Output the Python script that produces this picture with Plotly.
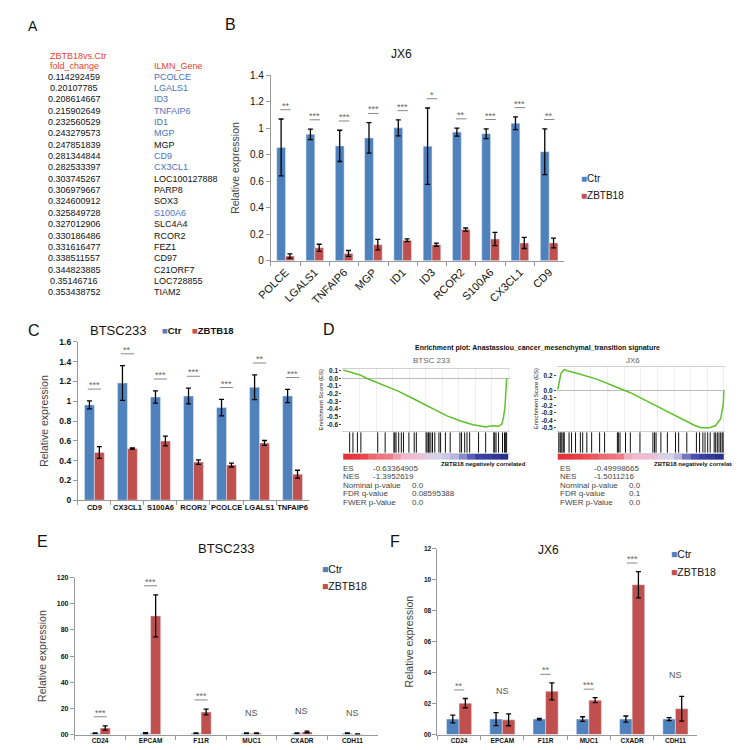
import plotly.graph_objects as go

FONT = "Liberation Sans, Arial, sans-serif"
W, H = 740, 750
CTR_COL = "#4F81BD"
ZB_COL = "#C0504D"


def fx(p):
    return p / W


def fy(p):
    return 1 - p / H


# ---------------- Panel A data ----------------
a_fold = ["0.114292459", "0.20107785", "0.208614667", "0.215902649", "0.232560529",
          "0.243279573", "0.247851839", "0.281344844", "0.282533397", "0.303745267",
          "0.306979667", "0.324600912", "0.325849728", "0.327012906", "0.330186486",
          "0.331616477", "0.338511557", "0.344823885", "0.35146716", "0.353438752"]
a_gene = ["PCOLCE", "LGALS1", "ID3", "TNFAIP6", "ID1", "MGP", "MGP", "CD9", "CX3CL1",
          "LOC100127888", "PARP8", "SOX3", "S100A6", "SLC4A4", "RCOR2", "FEZ1", "CD97",
          "C21ORF7", "LOC728855", "TIAM2"]
a_highlight = [True, True, True, True, True, True, False, True, True, False,
               False, False, True, False, False, False, False, False, False, False]

# ---------------- Panel B data (JX6) ----------------
b_genes = ["POLCE", "LGALS1", "TNFAIP6", "MGP", "ID1", "ID3", "RCOR2", "S100A6", "CX3CL1", "CD9"]
b_ctr = [0.855, 0.954, 0.867, 0.927, 1.003, 0.865, 0.971, 0.959, 1.038, 0.823]
b_ctr_err = [0.215, 0.04, 0.118, 0.115, 0.06, 0.288, 0.03, 0.037, 0.048, 0.173]
b_zb = [0.035, 0.097, 0.055, 0.121, 0.154, 0.121, 0.235, 0.164, 0.134, 0.134]
b_zb_err = [0.016, 0.027, 0.022, 0.04, 0.01, 0.012, 0.012, 0.05, 0.042, 0.037]
b_sig = ["**", "***", "***", "***", "***", "*", "**", "***", "***", "**"]

# ---------------- Panel C data (BTSC233) ----------------
c_genes = ["CD9", "CX3CL1", "S100A6", "RCOR2", "PCOLCE", "LGALS1", "TNFAIP6"]
c_ctr = [0.963, 1.185, 1.043, 1.053, 0.936, 1.142, 1.053]
c_ctr_err = [0.04, 0.175, 0.062, 0.08, 0.083, 0.125, 0.067]
c_zb = [0.482, 0.522, 0.598, 0.385, 0.355, 0.578, 0.262]
c_zb_err = [0.06, 0.005, 0.05, 0.023, 0.02, 0.025, 0.04]
c_sig = ["***", "**", "***", "***", "***", "**", "***"]

# ---------------- Panel D data (GSEA) ----------------
gsea_title = "Enrichment plot: Anastassiou_cancer_mesenchymal_transition signature"
d1_name = "BTSC 233"
d1_rank = [0, 0.043, 0.102, 0.141, 0.238, 0.336, 0.434, 0.531, 0.629, 0.707, 0.785,
           0.824, 0.863, 0.902, 0.941, 0.961, 0.971, 0.980, 0.990]
d1_es = [0.106, 0.077, 0.043, 0.0, -0.085, -0.17, -0.277, -0.383, -0.49, -0.553, -0.604,
         -0.617, -0.634, -0.617, -0.625, -0.596, -0.51, -0.38, 0.0]
d1_hits = [0.039, 0.059, 0.086, 0.107, 0.209, 0.254, 0.307, 0.3125, 0.320, 0.336, 0.352,
           0.365, 0.398, 0.430, 0.443, 0.502, 0.508, 0.516, 0.521, 0.531, 0.541, 0.555,
           0.580, 0.590, 0.619, 0.648, 0.707, 0.717, 0.736, 0.75, 0.766, 0.820, 0.863,
           0.912, 0.918, 0.926, 0.941, 0.965, 0.977, 0.984, 0.990]
d1_metric = [1.0, 0.97, 0.92, 0.8, 0.75, 0.72, 0.6, 0.5, 0.48, 0.42, 0.33, 0.3, 0.28,
             0.25, 0.18, 0.12, 0.06, 0.04, 0.02, 0.0]
d1_stats = [("ES", "-0.63364905"), ("NES", "-1.3952619"), ("Nominal p-value", "0.0"),
            ("FDR q-value", "0.08595388"), ("FWER p-Value", "0.0")]

d2_name = "JX6"
d2_rank = [0, 0.0097, 0.019, 0.039, 0.058, 0.146, 0.243, 0.340, 0.437, 0.534, 0.631,
           0.728, 0.825, 0.864, 0.913, 0.951, 0.981, 0.997, 1.0]
d2_es = [0.013, 0.12, 0.23, 0.28, 0.264, 0.21, 0.145, 0.057, -0.03, -0.14, -0.25, -0.36,
         -0.47, -0.50, -0.50, -0.47, -0.38, -0.185, 0.0]
d2_hits = [0.006, 0.014, 0.019, 0.025, 0.033, 0.039, 0.068, 0.083, 0.107, 0.136, 0.150,
           0.175, 0.204, 0.252, 0.282, 0.359, 0.365, 0.375, 0.408, 0.437, 0.495, 0.573,
           0.583, 0.592, 0.621, 0.660, 0.709, 0.728, 0.777, 0.835, 0.854, 0.874, 0.887,
           0.903, 0.918, 0.942, 0.951, 0.961, 0.971, 0.981, 0.990, 0.996]
d2_metric = [1.0, 0.98, 0.95, 0.9, 0.85, 0.78, 0.75, 0.72, 0.55, 0.5, 0.48, 0.45, 0.32,
             0.3, 0.25, 0.15, 0.1, 0.05, 0.03, 0.0]
d2_stats = [("ES", "-0.49998665"), ("NES", "-1.5011216"), ("Nominal p-value", "0.0"),
            ("FDR q-value", "0.1"), ("FWER p-Value", "0.0")]

# ---------------- Panel E data (BTSC233) ----------------
e_genes = ["CD24", "EPCAM", "F11R", "MUC1", "CXADR", "CDH11"]
e_ctr = [1.0, 1.0, 1.0, 1.0, 1.0, 1.0]
e_ctr_err = [0.3, 0.4, 0.3, 0.2, 0.3, 0.3]
e_zb = [5.0, 90.7, 17.3, 1.0, 2.0, 0.4]
e_zb_err = [1.6, 16.0, 2.2, 0.3, 0.6, 0.2]
e_sig = ["***", "***", "***", "NS", "NS", "NS"]
e_ticks = [0, 20, 40, 60, 80, 100, 120]
e_ticklabels = ["00", "20", "40", "60", "80", "100", "120"]

# ---------------- Panel F data (JX6) ----------------
f_genes = ["CD24", "EPCAM", "F11R", "MUC1", "CXADR", "CDH11"]
f_ctr = [1.0, 1.0, 1.0, 1.0, 1.0, 1.0]
f_ctr_err = [0.25, 0.42, 0.05, 0.15, 0.2, 0.1]
f_zb = [2.03, 0.95, 2.79, 2.22, 9.67, 1.67]
f_zb_err = [0.3, 0.38, 0.55, 0.16, 0.85, 0.8]
f_sig = ["**", "NS", "**", "***", "***", "NS"]
f_ticks = [0, 2, 4, 6, 8, 10, 12]
f_ticklabels = ["00", "02", "04", "06", "08", "10", "12"]

fig = go.Figure()
annotations = []
shapes = []


def add_bar_panel(n, cats, ctr, ctr_err, zb, zb_err, width, sig, line_off, half,
                  star_size, ns_off=None):
    xa = "x" if n == 1 else "x%d" % n
    ya = "y" if n == 1 else "y%d" % n
    eb = dict(color="black", thickness=1.3, width=2.5)
    fig.add_trace(go.Bar(x=cats, y=ctr, width=width, offset=-width, marker_color=CTR_COL,
                         error_y=dict(type="data", array=ctr_err, **eb),
                         name="Ctr", showlegend=False, xaxis=xa, yaxis=ya))
    fig.add_trace(go.Bar(x=cats, y=zb, width=width, offset=0, marker_color=ZB_COL,
                         error_y=dict(type="data", array=zb_err, **eb),
                         name="ZBTB18", showlegend=False, xaxis=xa, yaxis=ya))
    for i, s in enumerate(sig):
        top = max(ctr[i] + ctr_err[i], zb[i] + zb_err[i])
        if s == "NS":
            annotations.append(dict(x=i, y=top + ns_off, xref=xa, yref=ya, text="NS",
                                    showarrow=False, yanchor="middle",
                                    font=dict(size=9, color="#555", family=FONT)))
        else:
            h = top + line_off
            shapes.append(dict(type="line", xref=xa, yref=ya, x0=i - half, x1=i + half,
                               y0=h, y1=h, line=dict(color="#888", width=1)))
            annotations.append(dict(x=i, y=h, xref=xa, yref=ya, text=s, showarrow=False,
                                    yanchor="bottom", yshift=-3,
                                    font=dict(size=star_size, color="#666", family=FONT)))


add_bar_panel(1, b_genes, b_ctr, b_ctr_err, b_zb, b_zb_err, 0.3, b_sig, 0.07, 0.18, 9)
add_bar_panel(2, c_genes, c_ctr, c_ctr_err, c_zb, c_zb_err, 0.3, c_sig, 0.12, 0.2, 9)
add_bar_panel(9, e_genes, e_ctr, e_ctr_err, e_zb, e_zb_err, 0.2, e_sig, 7, 0.13, 9, 15.5)
add_bar_panel(10, f_genes, f_ctr, f_ctr_err, f_zb, f_zb_err, 0.29, f_sig, 0.55, 0.12, 9, 1.4)

# GSEA traces
GREEN = "#5cc12a"
gsea_cs = [[0.0, "#2a2f92"], [0.1, "#4a4fb0"], [0.2, "#9a9ad2"], [0.3, "#d6d2ea"],
           [0.5, "#f4b8cf"], [0.7, "#ef8088"], [0.85, "#ec5a60"], [1.0, "#e5303a"]]


def add_gsea(es_n, hit_n, bar_n, rank, es, hits, metric):
    fig.add_trace(go.Scatter(x=rank, y=es, mode="lines", line=dict(color=GREEN, width=1.5),
                             showlegend=False, xaxis="x%d" % es_n, yaxis="y%d" % es_n))
    hx, hy = [], []
    for h in hits:
        hx += [h, h, None]
        hy += [0, 1, None]
    fig.add_trace(go.Scatter(x=hx, y=hy, mode="lines", line=dict(color="#111", width=1),
                             showlegend=False, xaxis="x%d" % hit_n, yaxis="y%d" % hit_n))
    nseg = len(metric)
    fig.add_trace(go.Heatmap(x=[(i + 0.5) / nseg for i in range(nseg)], y=[0], z=[metric],
                             colorscale=gsea_cs, zmin=0, zmax=1, showscale=False,
                             xaxis="x%d" % bar_n, yaxis="y%d" % bar_n))


add_gsea(3, 4, 5, d1_rank, d1_es, d1_hits, d1_metric)
add_gsea(6, 7, 8, d2_rank, d2_es, d2_hits, d2_metric)

layout = dict(width=W, height=H, margin=dict(l=0, r=0, t=0, b=0),
              paper_bgcolor="white", plot_bgcolor="white",
              font=dict(family=FONT, color="#111"), showlegend=False)


def bar_axes(n, xdom, ydom, yrange, tickfont_x, tickfont_y, tickangle=0, tickvals=None,
             ticktext=None, dtick=None, title_size=10, standoff=8):
    xk = "xaxis" if n == 1 else "xaxis%d" % n
    yk = "yaxis" if n == 1 else "yaxis%d" % n
    ya = "y" if n == 1 else "y%d" % n
    xa = "x" if n == 1 else "x%d" % n
    layout[xk] = dict(domain=xdom, anchor=ya, type="category", showline=True,
                      linecolor="#999", linewidth=1, ticks="outside", tickson="boundaries",
                      ticklen=4, tickcolor="#999", showgrid=False, tickangle=tickangle,
                      tickfont=tickfont_x)
    yd = dict(domain=ydom, anchor=xa, range=yrange, showline=True, linecolor="#999",
              linewidth=1, ticks="outside", ticklen=4, tickcolor="#999", showgrid=False,
              zeroline=False, tickfont=tickfont_y,
              title=dict(text="Relative expression", font=dict(size=title_size, color="#444"),
                         standoff=standoff))
    if tickvals is not None:
        yd.update(tickmode="array", tickvals=tickvals, ticktext=ticktext)
    else:
        yd.update(dtick=dtick, tick0=0)
    layout[yk] = yd


bar_axes(1, [fx(253), fx(552)], [fy(250.7), fy(62.3)], [0, 1.4],
         dict(size=11, color="#111"), dict(size=10, color="#111"), tickangle=-45, dtick=0.2,
         title_size=10.5)
bar_axes(2, [fx(56), fx(292)], [fy(494), fy(333.3)], [0, 1.6],
         dict(size=7.5, color="#111", weight="bold"), dict(size=8.5, color="#111", weight="bold"),
         dtick=0.2, title_size=10.5)
bar_axes(9, [fx(53), fx(362)], [fy(732.3), fy(572.7)], [0, 120],
         dict(size=6.5, color="#111", weight="bold"), dict(size=7, color="#111", weight="bold"),
         tickvals=e_ticks, ticktext=e_ticklabels, title_size=10.5)
bar_axes(10, [fx(423), fx(688)], [fy(732.3), fy(543.3)], [0, 12],
         dict(size=6.5, color="#111", weight="bold"), dict(size=6.5, color="#111", weight="bold"),
         tickvals=f_ticks, ticktext=f_ticklabels, title_size=10.5)


def gsea_axes(es_n, hit_n, bar_n, x0, x1, es_top, es_bot, es_range, es_ticks):
    tick_txt = ["%.1f" % t for t in es_ticks]
    layout["xaxis%d" % es_n] = dict(domain=[fx(x0), fx(x1)], anchor="y%d" % es_n,
                                    range=[-0.005, 1.01], showticklabels=False, ticks="",
                                    showgrid=True, gridcolor="#eeeeee", dtick=0.1,
                                    showline=True, mirror=True, linecolor="#d0d0d0",
                                    zeroline=False)
    layout["yaxis%d" % es_n] = dict(domain=[fy(es_bot), fy(es_top)], anchor="x%d" % es_n,
                                    range=es_range, tickmode="array", tickvals=es_ticks,
                                    ticktext=tick_txt, ticks="outside", ticklen=2,
                                    tickcolor="#444", showgrid=False, zeroline=True,
                                    zerolinecolor="#bbbbbb", zerolinewidth=1,
                                    tickfont=dict(size=6.5, color="#222", weight="bold"),
                                    showline=False,
                                    title=dict(text="Enrichment Score (ES)",
                                               font=dict(size=6, color="#222"), standoff=2))
    layout["xaxis%d" % hit_n] = dict(domain=[fx(x0), fx(x1)], anchor="y%d" % hit_n,
                                     range=[-0.005, 1.01], showticklabels=False, ticks="",
                                     showgrid=False, zeroline=False, showline=True,
                                     mirror=True, linecolor="#d0d0d0")
    layout["yaxis%d" % hit_n] = dict(domain=[fy(446), fy(425)], anchor="x%d" % hit_n,
                                     range=[0, 1], showticklabels=False, ticks="",
                                     showgrid=False, zeroline=False, showline=False)
    layout["xaxis%d" % bar_n] = dict(domain=[fx(x0), fx(x1)], anchor="y%d" % bar_n,
                                     range=[-0.005, 1.01], showticklabels=False, ticks="",
                                     showgrid=False, zeroline=False, showline=False)
    layout["yaxis%d" % bar_n] = dict(domain=[fy(453), fy(447)], anchor="x%d" % bar_n,
                                     range=[-0.5, 0.5], showticklabels=False, ticks="",
                                     showgrid=False, zeroline=False, showline=False)


gsea_axes(3, 4, 5, 326, 497, 360.7, 423.3, [-0.68, 0.121],
          [0.1, 0.0, -0.1, -0.2, -0.3, -0.4, -0.5, -0.6])
gsea_axes(6, 7, 8, 545, 717, 358.3, 423.3, [-0.537, 0.32],
          [0.2, 0.0, -0.1, -0.2, -0.3, -0.4, -0.5])

# ---------------- Text annotations ----------------


def txt(x, y, text, size, color="#111", xanchor="left", bold=False, yanchor="middle"):
    annotations.append(dict(x=fx(x), y=fy(y), xref="paper", yref="paper", text=text,
                            showarrow=False, xanchor=xanchor, yanchor=yanchor,
                            font=dict(size=size, color=color, family=FONT,
                                      weight="bold" if bold else "normal")))


# panel letters
for letter, x, y, s in [("A", 10, 12, 14), ("B", 212, 11, 16), ("C", 11, 322, 16),
                        ("D", 312, 321, 16), ("E", 20, 536, 16), ("F", 380, 536, 16)]:
    txt(x, y, letter, s, xanchor="center")

# Panel A table
RED = "#e8432e"
BLUE = "#4a72c4"
txt(25.5, 42.7, "ZBTB18vs.Ctr", 9, RED)
txt(25.5, 52.7, "fold_change", 9, RED)
txt(132, 52.7, "ILMN_Gene", 9, RED)
for i, (fc, g, hl) in enumerate(zip(a_fold, a_gene, a_highlight)):
    y = 63.7 + i * 11.53
    txt(52.5, y, fc, 9, "#111", xanchor="center")
    txt(131.5, y, g, 9, BLUE if hl else "#111")

# Panel titles
txt(386, 41, "JX6", 12, xanchor="center")
txt(97, 321.5, "BTSC233", 13, xanchor="center")
txt(207.7, 543, "BTSC233", 13, xanchor="center")
txt(536.7, 545, "JX6", 12, xanchor="center")


def legend_item(x, y, color, label, size, bold=False):
    text = '<span style="color:%s">&#9632;</span>%s' % (color, label)
    txt(x, y, text, size, "#111", bold=bold)


legend_item(567, 167, CTR_COL, "Ctr", 10)
legend_item(567, 184, ZB_COL, "ZBTB18", 10)
legend_item(140, 321.5, CTR_COL, "Ctr", 9.5, bold=True)
legend_item(170, 321.5, ZB_COL, "ZBTB18", 9.5, bold=True)
legend_item(303, 564, CTR_COL, "Ctr", 10.5)
legend_item(303, 581, ZB_COL, "ZBTB18", 10.5)
legend_item(659, 549, CTR_COL, "Ctr", 10.5)
legend_item(659, 566.7, ZB_COL, "ZBTB18", 10.5)

# Panel D texts
txt(525, 339, gsea_title, 7, "#111", xanchor="center", bold=True)
txt(417, 352, d1_name, 8, "#666", xanchor="center")
txt(623, 352, d2_name, 8, "#666", xanchor="center")
txt(515, 457, "ZBTB18 negatively correlated", 6, "#111", xanchor="right", bold=True)
txt(733, 457, "ZBTB18 negatively correlated", 6, "#111", xanchor="right", bold=True)
rows_y = [461.5, 470.2, 478.8, 487.5, 496.2]
for stats, xl, xv1, xv2 in [(d1_stats, 325, 355, 395), (d2_stats, 546, 580.7, 616)]:
    for j, (lab, val) in enumerate(stats):
        txt(xl, rows_y[j], lab, 8, "#444")
        txt(xv1 if j < 2 else xv2, rows_y[j], val, 8, "#444")

layout["annotations"] = annotations
layout["shapes"] = shapes
fig.update_layout(**layout)
fig.write_html("out.html")
